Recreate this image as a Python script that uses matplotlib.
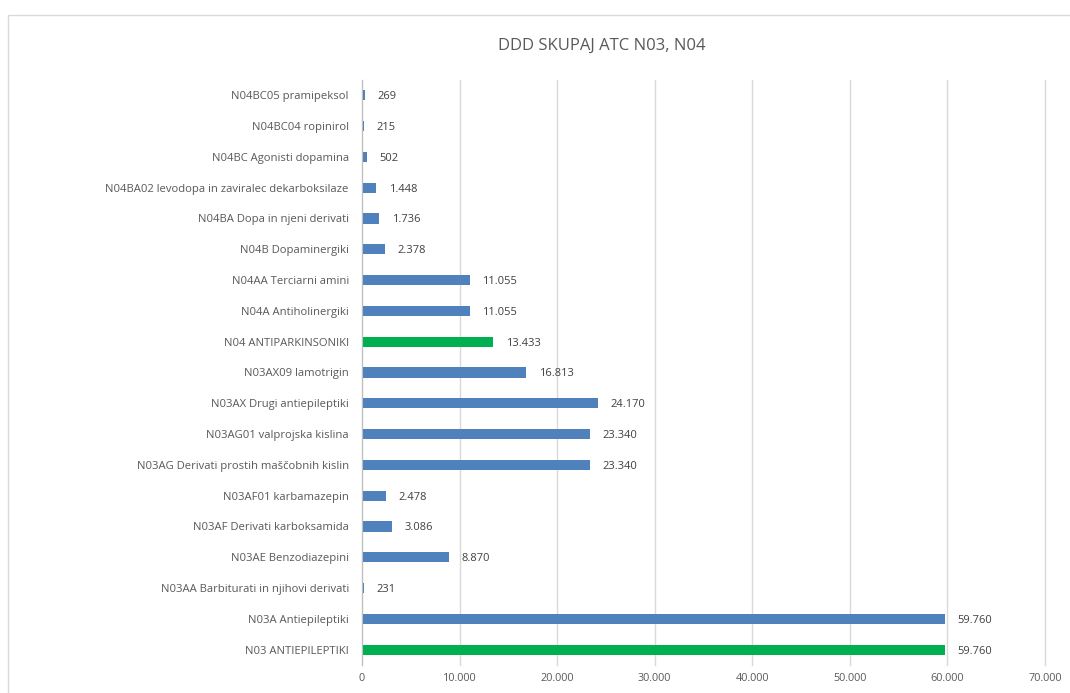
import numpy as np
import matplotlib.pyplot as plt
from matplotlib.patches import Rectangle

# categories listed bottom to top
labels = [
    "N03 ANTIEPILEPTIKI",
    "N03A Antiepileptiki",
    "N03AA Barbiturati in njihovi derivati",
    "N03AE Benzodiazepini",
    "N03AF Derivati karboksamida",
    "N03AF01 karbamazepin",
    "N03AG Derivati prostih maščobnih kislin",
    "N03AG01 valprojska kislina",
    "N03AX Drugi antiepileptiki",
    "N03AX09 lamotrigin",
    "N04 ANTIPARKINSONIKI",
    "N04A Antiholinergiki",
    "N04AA Terciarni amini",
    "N04B Dopaminergiki",
    "N04BA Dopa in njeni derivati",
    "N04BA02 levodopa in zaviralec dekarboksilaze",
    "N04BC Agonisti dopamina",
    "N04BC04 ropinirol",
    "N04BC05 pramipeksol",
]
values = [59760, 59760, 231, 8870, 3086, 2478, 23340, 23340, 24170, 16813,
          13433, 11055, 11055, 2378, 1736, 1448, 502, 215, 269]
highlight = ["N03 ANTIEPILEPTIKI", "N04 ANTIPARKINSONIKI"]
xticks = np.arange(0, 70001, 10000)


def fmt(v):
    return f"{v:,}".replace(",", ".")


plt.rcParams['font.family'] = ['Open Sans', 'DejaVu Sans']
txt = "#595959"

fig = plt.figure(figsize=(10.7, 6.93), dpi=100)
ax = fig.add_axes([0.3383, 0.0404, 0.6383, 0.8443])

colors = ["#00b050" if l in highlight else "#4f81bd" for l in labels]
y = np.arange(len(labels))
ax.barh(y, values, height=0.33, color=colors, zorder=3)
for yi, v in zip(y, values):
    ax.text(v + 1300, yi, fmt(v), va="center_baseline", ha="left",
            fontsize=8, color="#404040")

ax.set_ylim(-0.5, len(labels) - 0.5)
ax.set_xlim(0, 70000)
ax.set_yticks(y)
ax.set_yticklabels(labels, fontsize=8.1, color=txt, va="center_baseline")
ax.set_xticks(xticks)
ax.set_xticklabels([fmt(t) for t in xticks], fontsize=7.8, color=txt)
ax.tick_params(axis="y", length=0, pad=9.5)
ax.tick_params(axis="x", length=0, pad=6)
ax.grid(axis="x", color="#d9d9d9", linewidth=1, zorder=0)
for gl in ax.get_xgridlines():
    gl.set_clip_on(False)
for s in ["top", "right", "bottom"]:
    ax.spines[s].set_visible(False)
ax.spines["left"].set_color("#bfbfbf")
ax.spines["left"].set_zorder(4)

fig.text(0.562, 0.934, "DDD SKUPAJ ATC N03, N04", ha="center", va="center",
         fontsize=12, color=txt)
fig.patches.append(Rectangle((8 / 1070, -0.01), 1.02, 1 - 15 / 693 + 0.01,
                             transform=fig.transFigure, fill=False,
                             edgecolor="#d9d9d9", linewidth=1))

fig.savefig("out.png", dpi=100)
